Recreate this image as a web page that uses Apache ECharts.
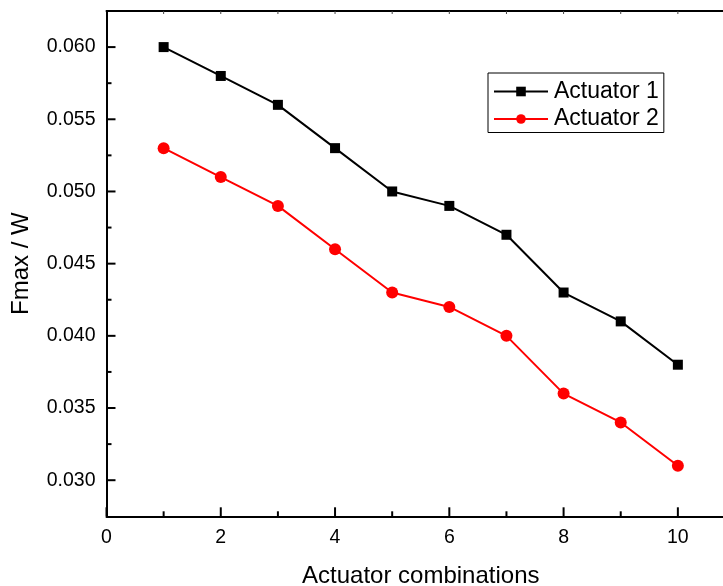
<!DOCTYPE html>
<html>
<head>
<meta charset="utf-8">
<script src="https://cdn.jsdelivr.net/npm/echarts@6/dist/echarts.min.js"></script>
<style>
  html, body { margin: 0; padding: 0; background: #fff; }
  #chart { width: 723px; height: 586px; }
</style>
</head>
<body>
<div id="chart"></div>
<script>
// Actuator combination index on the x axis
const combinations = [1, 2, 3, 4, 5, 6, 7, 8, 9, 10];
// Maximum force (Fmax / W) for each actuator
const actuator1 = [0.060, 0.058, 0.056, 0.053, 0.050, 0.049, 0.047, 0.043, 0.041, 0.038];
const actuator2 = [0.053, 0.051, 0.049, 0.046, 0.043, 0.042, 0.040, 0.036, 0.034, 0.031];
// Tick positions
const xMajorTicks = [0, 2, 4, 6, 8, 10];
const xMinorTicks = [1, 3, 5, 7, 9];
const yMajorTicks = [0.030, 0.035, 0.040, 0.045, 0.050, 0.055, 0.060];
const yMinorTicks = [0.0325, 0.0375, 0.0425, 0.0475, 0.0525, 0.0575];

const FONT = '"Liberation Sans", Arial, sans-serif';
const X_RANGE = { min: 0, max: 11 };
const Y_RANGE = { min: 0.0275, max: 0.0625 };
const MAJOR_LEN = 9, MINOR_LEN = 5, TOP_LEN = 3;
const chart = echarts.init(document.getElementById('chart'));

const pairs = (ys) => combinations.map((x, i) => [x, ys[i]]);

// Inward tick marks, placed through the axis scales.
// Each item: [x, y, length, direction] where direction 0 = right, 1 = up, 2 = down.
const tickItems = [
  ...yMajorTicks.map((v) => [X_RANGE.min, v, MAJOR_LEN, 0]),
  ...yMinorTicks.map((v) => [X_RANGE.min, v, MINOR_LEN, 0]),
  ...xMajorTicks.map((v) => [v, Y_RANGE.min, MAJOR_LEN, 1]),
  ...xMinorTicks.map((v) => [v, Y_RANGE.min, MINOR_LEN, 1]),
  ...combinations.map((v) => [v, Y_RANGE.max, TOP_LEN, 2])
];

function renderTick(params, api) {
  const p = api.coord([api.value(0), api.value(1)]);
  const len = api.value(2);
  const dir = api.value(3);
  const top = dir === 2;
  const shape = dir === 0
    ? { x1: p[0], y1: p[1], x2: p[0] + len, y2: p[1] }
    : { x1: p[0], y1: p[1], x2: p[0], y2: dir === 1 ? p[1] - len : p[1] + len };
  return {
    type: 'line',
    shape,
    style: { stroke: top ? '#444' : '#000', lineWidth: top ? 1 : 2 }
  };
}

chart.setOption({
  animation: false,
  backgroundColor: '#fff',
  textStyle: { fontFamily: FONT },
  grid: {
    left: 106.5, top: 11, width: 628.5, bottom: 69.7,
    containLabel: false, outerBoundsMode: 'none'
  },
  legend: {
    left: 488, top: 73,
    orient: 'vertical',
    itemWidth: 54, itemHeight: 12, itemGap: 4.5,
    padding: [7, 5, 2, 5],
    borderColor: '#000', borderWidth: 1,
    textStyle: { fontFamily: FONT, fontSize: 23, color: '#000', padding: [0, 0, 0, 1] },
    data: ['Actuator 1', 'Actuator 2']
  },
  xAxis: [
    {
      type: 'value', position: 'bottom', ...X_RANGE,
      name: 'Actuator combinations', nameLocation: 'middle', nameGap: 48,
      nameTextStyle: { fontFamily: FONT, fontSize: 24, color: '#000' },
      axisLine: { onZero: false, lineStyle: { color: '#000', width: 2 } },
      axisTick: { show: false },
      axisLabel: { margin: 11, fontFamily: FONT, fontSize: 19.5, color: '#000', customValues: xMajorTicks },
      splitLine: { show: false }
    },
    {
      type: 'value', position: 'top', ...X_RANGE,
      axisLine: { onZero: false, lineStyle: { color: '#000', width: 2 } },
      axisTick: { show: false },
      axisLabel: { show: false },
      splitLine: { show: false }
    }
  ],
  yAxis: [
    {
      type: 'value', position: 'left', ...Y_RANGE,
      name: 'Fmax / W', nameLocation: 'middle', nameGap: 73,
      nameTextStyle: { fontFamily: FONT, fontSize: 24, color: '#000' },
      axisLine: { onZero: false, lineStyle: { color: '#000', width: 2 } },
      axisTick: { show: false },
      axisLabel: {
        margin: 11, fontFamily: FONT, fontSize: 19.5, color: '#000',
        customValues: yMajorTicks,
        formatter: (v) => v.toFixed(3)
      },
      splitLine: { show: false }
    }
  ],
  series: [
    {
      name: 'Actuator 1', type: 'line',
      xAxisIndex: 0, yAxisIndex: 0,
      data: pairs(actuator1),
      symbol: 'rect', symbolSize: 10,
      lineStyle: { color: '#000', width: 2 },
      itemStyle: { color: '#000' }
    },
    {
      name: 'Actuator 2', type: 'line',
      xAxisIndex: 0, yAxisIndex: 0,
      data: pairs(actuator2),
      symbol: 'circle', symbolSize: 12,
      lineStyle: { color: '#ff0000', width: 2 },
      itemStyle: { color: '#ff0000' }
    },
    {
      name: 'ticks', type: 'custom',
      xAxisIndex: 0, yAxisIndex: 0,
      data: tickItems,
      renderItem: renderTick,
      clip: false, silent: true, z: 5
    }
  ]
});
</script>
</body>
</html>
